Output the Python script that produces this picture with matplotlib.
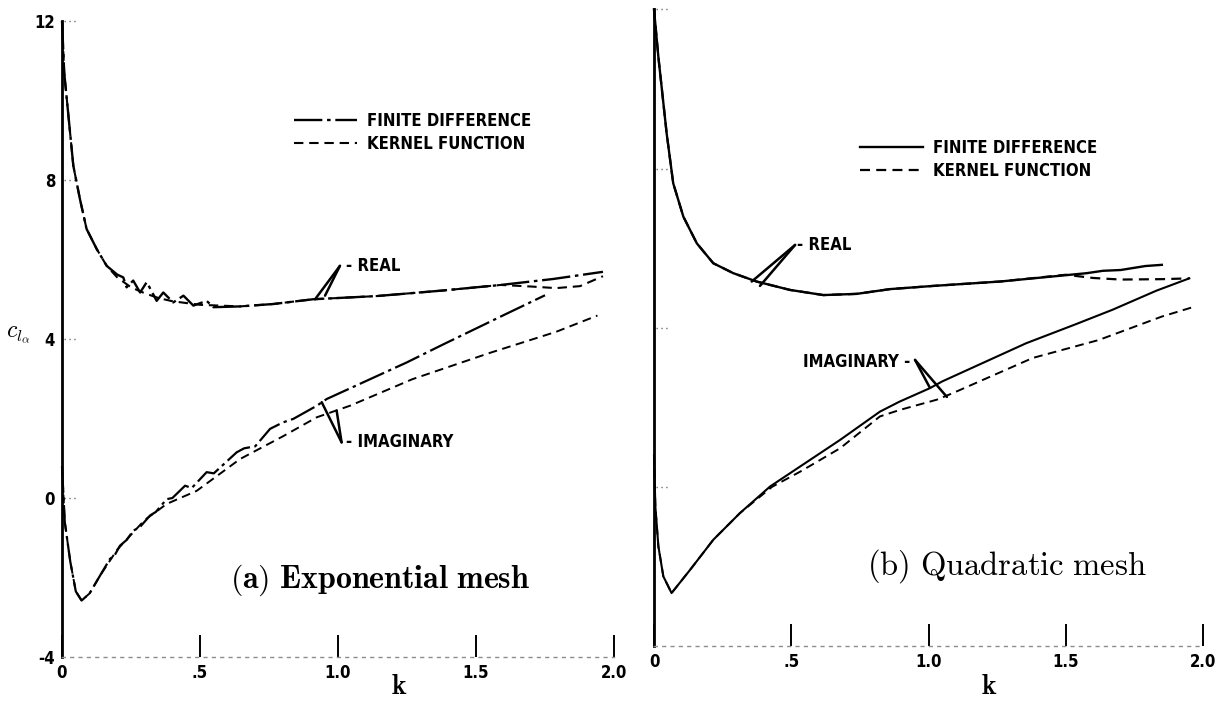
import matplotlib
matplotlib.use("Agg")
import matplotlib.pyplot as plt
from matplotlib import font_manager as fm

# ---------------- data ----------------
# (a) Exponential mesh
a_real_fd_k = [0.0, 0.008, 0.041, 0.065, 0.089, 0.126, 0.162, 0.200, 0.222, 0.234, 0.258,
               0.283, 0.307, 0.343, 0.367, 0.403, 0.440, 0.476, 0.524, 0.548, 0.645, 0.765,
               0.910, 1.140, 1.380, 1.590, 1.780, 1.960]
a_real_fd_v = [12.0, 10.7, 8.36, 7.52, 6.77, 6.26, 5.84, 5.62, 5.55, 5.30, 5.47,
               5.17, 5.43, 4.96, 5.17, 4.92, 5.09, 4.84, 4.96, 4.80, 4.82, 4.88,
               5.00, 5.08, 5.22, 5.36, 5.51, 5.69]
a_real_kf_k = [0.0, 0.008, 0.041, 0.065, 0.089, 0.126, 0.162, 0.200, 0.250, 0.300, 0.350,
               0.400, 0.500, 0.645, 0.765, 0.910, 1.140, 1.380, 1.590, 1.700, 1.790, 1.877, 1.960]
a_real_kf_v = [12.0, 10.7, 8.36, 7.52, 6.77, 6.26, 5.84, 5.55, 5.30, 5.15, 5.03,
               4.95, 4.86, 4.82, 4.88, 5.00, 5.08, 5.22, 5.36, 5.32, 5.28, 5.33, 5.58]
a_imag_fd_k = [0.0, 0.010, 0.030, 0.050, 0.071, 0.100, 0.138, 0.174, 0.190, 0.210, 0.235,
               0.258, 0.280, 0.319, 0.340, 0.379, 0.400, 0.446, 0.470, 0.524, 0.550, 0.633,
               0.660, 0.700, 0.754, 0.800, 0.838, 0.923, 0.959, 1.249, 1.380, 1.600, 1.750]
a_imag_fd_v = [0.8, -0.6, -1.6, -2.35, -2.58, -2.40, -1.95, -1.53, -1.45, -1.20, -1.05,
               -0.82, -0.75, -0.44, -0.35, -0.03, 0.00, 0.31, 0.25, 0.65, 0.62, 1.15,
               1.25, 1.30, 1.74, 1.90, 1.99, 2.32, 2.49, 3.41, 3.86, 4.60, 5.10]
a_imag_kf_k = [0.0, 0.010, 0.030, 0.050, 0.071, 0.100, 0.138, 0.200, 0.300, 0.350, 0.379,
               0.488, 0.645, 0.800, 0.923, 1.043, 1.270, 1.550, 1.790, 1.940]
a_imag_kf_v = [0.8, -0.6, -1.6, -2.35, -2.58, -2.40, -1.95, -1.30, -0.55, -0.30, -0.15,
               0.18, 0.98, 1.55, 2.03, 2.32, 2.99, 3.65, 4.18, 4.59]

# (b) Quadratic mesh
b_real_fd_k = [0.0, 0.016, 0.046, 0.070, 0.107, 0.156, 0.216, 0.289, 0.374, 0.495, 0.617,
               0.738, 0.860, 1.017, 1.260, 1.576, 1.635, 1.700, 1.790, 1.850]
b_real_fd_v = [12.0, 10.8, 8.89, 7.63, 6.79, 6.12, 5.62, 5.37, 5.16, 4.95, 4.82,
               4.85, 4.97, 5.05, 5.16, 5.37, 5.43, 5.45, 5.55, 5.58]
b_real_kf_k = [0.0, 0.016, 0.046, 0.070, 0.107, 0.156, 0.216, 0.289, 0.374, 0.495, 0.617,
               0.738, 0.860, 1.017, 1.260, 1.500, 1.600, 1.700, 1.850, 1.950]
b_real_kf_v = [12.0, 10.8, 8.89, 7.63, 6.79, 6.12, 5.62, 5.37, 5.16, 4.95, 4.82,
               4.85, 4.97, 5.05, 5.16, 5.33, 5.25, 5.21, 5.22, 5.24]
b_imag_fd_k = [0.0, 0.005, 0.016, 0.034, 0.064, 0.131, 0.216, 0.313, 0.423, 0.532, 0.678,
               0.823, 0.894, 1.005, 1.050, 1.356, 1.530, 1.670, 1.830, 1.950]
b_imag_fd_v = [0.8, -0.5, -1.5, -2.25, -2.67, -2.09, -1.33, -0.66, 0.01, 0.51, 1.18,
               1.89, 2.14, 2.48, 2.65, 3.61, 4.07, 4.45, 4.93, 5.24]
b_imag_kf_k = [0.0, 0.005, 0.016, 0.034, 0.064, 0.131, 0.216, 0.313, 0.430, 0.532, 0.678,
               0.823, 0.894, 1.030, 1.090, 1.380, 1.620, 1.850, 1.960]
b_imag_kf_v = [0.8, -0.5, -1.5, -2.25, -2.67, -2.09, -1.33, -0.66, 0.00, 0.38, 0.97,
               1.77, 1.93, 2.19, 2.36, 3.24, 3.69, 4.28, 4.51]

x_ticks = [0.0, 0.5, 1.0, 1.5, 2.0]
x_ticklabels = ["0", ".5", "1.0", "1.5", "2.0"]
y_ticks = [-4, 0, 4, 8, 12]
y_ticklabels = ["-4", "0", "4", "8", "12"]
legend_labels = ["FINITE DIFFERENCE", "KERNEL FUNCTION"]
titles = [r"$\mathbf{(a)\ Exponential\ mesh}$", r"$\mathrm{(b)\ Quadratic\ mesh}$"]

# ---------------- style ----------------
names = {f.name for f in fm.fontManager.ttflist}
COND = "Liberation Sans Narrow" if "Liberation Sans Narrow" in names else "DejaVu Sans"
plt.rcParams["mathtext.fontset"] = "cm"
lab_font = dict(family=COND, weight="bold", stretch="condensed")

W, H = 1227, 701
fig = plt.figure(figsize=(W / 100, H / 100), dpi=100)


def px_axes(x0, x1, ytop, ybot):
    return fig.add_axes([x0 / W, 1 - ybot / H, (x1 - x0) / W, (ybot - ytop) / H])


axA = px_axes(62, 614, 21, 657)
axB = px_axes(654, 1203, 9.4, 646)

FD_A = (0, (12, 2, 1.5, 2))
KF_DASH = (0, (4.5, 2.8))

for ax, ylab in ((axA, -0.0456), (axB, -0.0628)):
    ax.set_xlim(0, 2.0)
    ax.set_ylim(-4, 12)
    for s in ("top", "right"):
        ax.spines[s].set_visible(False)
    ax.spines["left"].set_linewidth(2.0)
    ax.spines["bottom"].set_linewidth(1.0)
    ax.spines["bottom"].set_linestyle((0, (2, 4)))
    ax.spines["bottom"].set_color("0.55")
    ax.set_xticks(x_ticks)
    ax.set_xticklabels(x_ticklabels, fontsize=12, **lab_font)
    ax.tick_params(axis="x", direction="in", length=16, width=1.4, pad=5)
    ax.set_yticks(y_ticks)
    ax.tick_params(axis="y", length=0, pad=5)
    for v in y_ticks[1:]:
        ax.plot([0.008, 0.05], [v, v], ls=(0, (1, 2.5)), color="0.45", lw=1.0, clip_on=False)
    ax.set_xlabel(r"$\mathbf{k}$", fontsize=20, va="center")
    ax.xaxis.set_label_coords(1.22 / 2.0, ylab)

axA.set_yticklabels(y_ticklabels, fontsize=12, **lab_font)
axB.set_yticklabels([])

# ---------------- curves ----------------
lA_fd, = axA.plot(a_real_fd_k, a_real_fd_v, color="k", lw=1.7, ls=FD_A, clip_on=False)
lA_kf, = axA.plot(a_real_kf_k, a_real_kf_v, color="k", lw=1.5, ls=KF_DASH, clip_on=False)
axA.plot(a_imag_fd_k, a_imag_fd_v, color="k", lw=1.6, ls=FD_A, clip_on=False)
axA.plot(a_imag_kf_k, a_imag_kf_v, color="k", lw=1.4, ls=KF_DASH, clip_on=False)

lB_fd, = axB.plot(b_real_fd_k, b_real_fd_v, color="k", lw=1.7, ls="-", clip_on=False)
lB_kf, = axB.plot(b_real_kf_k, b_real_kf_v, color="k", lw=1.6, ls=KF_DASH, clip_on=False)
axB.plot(b_imag_fd_k, b_imag_fd_v, color="k", lw=1.5, ls="-", clip_on=False)
axB.plot(b_imag_kf_k, b_imag_kf_v, color="k", lw=1.4, ls=KF_DASH, clip_on=False)

# ---------------- legends ----------------
leg_prop = dict(family=COND, weight="bold", stretch="condensed", size=12)
for ax, handles, (lx, ly) in ((axA, [lA_fd, lA_kf], (294, 112)),
                              (axB, [lB_fd, lB_kf], (860, 139))):
    ax.legend(handles, legend_labels, loc="upper left",
              bbox_to_anchor=(lx / W, 1 - ly / H), bbox_transform=fig.transFigure,
              frameon=False, prop=leg_prop, handlelength=3.8, handletextpad=0.6,
              labelspacing=0.3, borderpad=0, borderaxespad=0)

# ---------------- labels with leader lines ----------------
ann_font = dict(family=COND, weight="bold", stretch="condensed", size=12)


def leader(ax, apex, targets, text, txy, ha):
    for t in targets:
        ax.annotate("", xy=t, xytext=apex,
                    arrowprops=dict(arrowstyle="-", lw=1.8, color="k", shrinkA=0, shrinkB=0))
    ax.text(txy[0], txy[1], text, ha=ha, va="center", **ann_font)


leader(axA, (1.007, 5.84), [(0.917, 5.00), (0.953, 5.09)], "- REAL", (1.03, 5.84), "left")
leader(axA, (1.013, 1.40), [(0.941, 2.41), (0.995, 2.20)], "- IMAGINARY", (1.03, 1.40), "left")
leader(axB, (0.514, 6.08), [(0.356, 5.16), (0.386, 5.05)], "- REAL", (0.52, 6.08), "left")
leader(axB, (0.951, 3.19), [(1.005, 2.49), (1.067, 2.26)], "IMAGINARY -", (0.935, 3.15), "right")

# ---------------- panel titles ----------------
axA.text(0.608, -2.06, titles[0], fontsize=23, ha="left", va="center")
axB.text(0.776, -2.0, titles[1], fontsize=23.5, ha="left", va="center")

# y-axis label
fig.text(18 / W, 1 - 334 / H, r"$c_{l_\alpha}$", fontsize=17, ha="center", va="center")

fig.savefig("out.png", dpi=100)
